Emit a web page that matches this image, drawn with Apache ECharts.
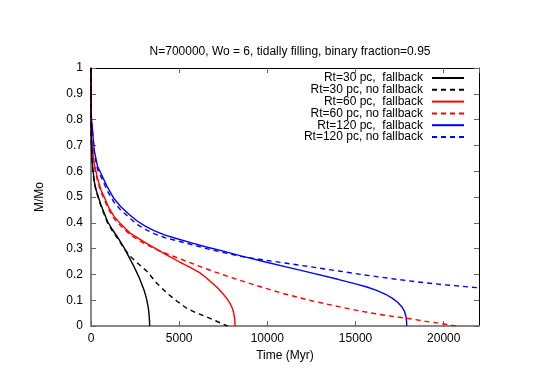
<!DOCTYPE html>
<html><head><meta charset="utf-8">
<script src="https://cdn.jsdelivr.net/npm/echarts@6/dist/echarts.min.js"></script>
<style>html,body{margin:0;padding:0;background:#fff}#c{width:554px;height:391px}</style>
</head><body><div id="c"></div>
<script>
const titleText = "N=700000, Wo = 6, tidally filling, binary fraction=0.95";
const xTitle = "Time (Myr)";
const yTitle = "M/Mo";
const seriesNames = ["Rt=30 pc,  fallback","Rt=30 pc, no fallback","Rt=60 pc,  fallback","Rt=60 pc, no fallback","Rt=120 pc,  fallback","Rt=120 pc, no fallback"];
const seriesColors = ["#000000","#000000","#ff0000","#ff0000","#0000ff","#0000ff"];
const seriesDashed = [false,true,false,true,false,true];

const rt30Fallback = [[0,1],[3,0.9],[8,0.8],[20,0.72],[50,0.66],[90,0.62],[186,0.56],[300,0.525],[560,0.47],[938,0.405],[1200,0.375],[1500,0.345],[1880,0.303],[2150,0.268],[2445,0.229],[2750,0.185],[3010,0.139],[3150,0.105],[3250,0.07],[3300,0.04],[3320,0.015],[3325,0]];
const rt30NoFallback = [[0,1],[3,0.89],[8,0.79],[20,0.71],[50,0.65],[90,0.61],[186,0.555],[300,0.52],[560,0.465],[938,0.4],[1200,0.37],[1500,0.34],[1880,0.3],[2255,0.268],[2700,0.24],[3200,0.21],[3700,0.168],[4330,0.126],[4900,0.095],[5460,0.067],[6000,0.05],[6490,0.037],[7000,0.022],[7400,0.01],[7735,0]];
const rt60Fallback = [[0,1],[3,0.9],[8,0.81],[20,0.75],[50,0.71],[90,0.68],[186,0.627],[373,0.572],[560,0.528],[750,0.5],[1000,0.46],[1315,0.424],[1690,0.395],[2255,0.358],[3010,0.326],[3760,0.296],[4330,0.274],[5000,0.249],[5600,0.228],[6135,0.208],[6500,0.189],[6890,0.166],[7200,0.146],[7455,0.127],[7700,0.107],[7880,0.088],[8020,0.068],[8100,0.048],[8145,0.028],[8165,0.01],[8170,0]];
const rt60NoFallback = [[0,1],[3,0.89],[8,0.8],[20,0.74],[50,0.7],[90,0.67],[186,0.62],[373,0.562],[560,0.52],[750,0.49],[1000,0.452],[1315,0.416],[1690,0.388],[2255,0.352],[3010,0.32],[3600,0.3],[4330,0.279],[5400,0.251],[6135,0.232],[7000,0.21],[8000,0.187],[9000,0.165],[9900,0.146],[11000,0.124],[12500,0.098],[14045,0.075],[15500,0.055],[16800,0.04],[17815,0.031],[19000,0.018],[20000,0.008],[20730,0]];
const rt120Fallback = [[0,1],[3,0.93],[8,0.87],[15,0.82],[40,0.79],[90,0.757],[186,0.68],[373,0.618],[560,0.592],[940,0.537],[1300,0.494],[1690,0.462],[2200,0.43],[2635,0.406],[3100,0.386],[3575,0.37],[4200,0.352],[4890,0.338],[5700,0.322],[6490,0.307],[7500,0.29],[8500,0.272],[9900,0.248],[11000,0.23],[12500,0.206],[14000,0.181],[15000,0.163],[15600,0.152],[16200,0.138],[16700,0.123],[17100,0.107],[17400,0.091],[17620,0.075],[17770,0.058],[17850,0.04],[17890,0.02],[17900,0]];
const rt120NoFallback = [[0,1],[3,0.92],[8,0.86],[15,0.81],[40,0.78],[90,0.748],[186,0.67],[373,0.607],[560,0.58],[940,0.522],[1300,0.48],[1690,0.449],[2200,0.418],[2635,0.393],[3100,0.374],[3575,0.358],[4200,0.342],[4890,0.33],[5700,0.316],[6490,0.301],[7500,0.285],[8500,0.27],[9900,0.255],[11000,0.244],[12500,0.229],[14045,0.213],[15500,0.198],[17000,0.184],[18500,0.171],[20000,0.16],[22000,0.148]];
const allData = [rt30Fallback, rt30NoFallback, rt60Fallback, rt60NoFallback, rt120Fallback, rt120NoFallback];

const xMin = 0, xMax = 22000, xInterval = 5000;
const yMin = 0, yMax = 1, yInterval = 0.1;

const FONT = "Liberation Sans";
const chart = echarts.init(document.getElementById('c'), null, {renderer:'canvas'});

const legends = seriesNames.map((n, i) => ({
  data: [n],
  right: 89,
  top: 72 + i * 11.8,
  orient: 'vertical',
  align: 'right',
  itemWidth: 32,
  itemHeight: 10,
  itemGap: 0,
  padding: 0,
  selectedMode: false,
  itemStyle: {color: 'rgba(0,0,0,0)', borderWidth: 0, borderColor: 'rgba(0,0,0,0)'},
  textStyle: {fontFamily: FONT, fontSize: 12, color: '#000', padding: [0, 4, 0, 0]}
}));

const series = seriesNames.map((n, i) => ({
  name: n,
  type: 'line',
  data: allData[i],
  showSymbol: false,
  symbol: 'none',
  smooth: false,
  z: 10 - i,
  lineStyle: {color: seriesColors[i], width: 1.4, type: seriesDashed[i] ? [5, 4] : 'solid'},
  itemStyle: {color: seriesColors[i]}
}));

chart.setOption({
  animation: false,
  backgroundColor: '#fff',
  title: {text: titleText, left: 285, top: 41, textAlign: 'center',
    textStyle: {fontFamily: FONT, fontSize: 12, fontWeight: 'normal', color: '#000'}},
  legend: legends,
  grid: {left: 91, right: 75, top: 68, bottom: 65, containLabel: false},
  xAxis: [{
    type: 'value', min: xMin, max: xMax, interval: xInterval,
    name: xTitle, nameLocation: 'middle', nameGap: 24,
    nameTextStyle: {fontFamily: FONT, fontSize: 12, color: '#000'},
    axisLine: {show: true, onZero: false, lineStyle: {color: '#888', width: 2}},
    axisTick: {show: true, inside: true, length: 5, lineStyle: {color: '#666'}},
    axisLabel: {fontFamily: FONT, fontSize: 12, color: '#000', margin: 7, showMaxLabel: false,
      formatter: v => String(v)},
    splitLine: {show: false}
  }, {
    type: 'value', position: 'top', min: xMin, max: xMax, interval: xInterval,
    axisLine: {show: true, onZero: false, lineStyle: {color: '#000', width: 1}},
    axisTick: {show: true, inside: true, length: 5, lineStyle: {color: '#666'}},
    axisLabel: {show: false}, splitLine: {show: false}
  }],
  yAxis: [{
    type: 'value', min: yMin, max: yMax, interval: yInterval,
    name: yTitle, nameLocation: 'middle', nameGap: 45, nameRotate: 90,
    nameTextStyle: {fontFamily: FONT, fontSize: 12, color: '#000'},
    axisLine: {show: true, onZero: false, lineStyle: {color: '#888', width: 2}},
    axisTick: {show: true, inside: true, length: 5, lineStyle: {color: '#666'}},
    axisLabel: {fontFamily: FONT, fontSize: 12, color: '#000', margin: 8,
      formatter: v => String(Math.round(v * 10) / 10)},
    splitLine: {show: false}
  }, {
    type: 'value', position: 'right', min: yMin, max: yMax, interval: yInterval,
    axisLine: {show: true, onZero: false, lineStyle: {color: '#000', width: 1}},
    axisTick: {show: true, inside: true, length: 5, lineStyle: {color: '#666'}},
    axisLabel: {show: false}, splitLine: {show: false}
  }],
  series: series
});
</script>
</body></html>
